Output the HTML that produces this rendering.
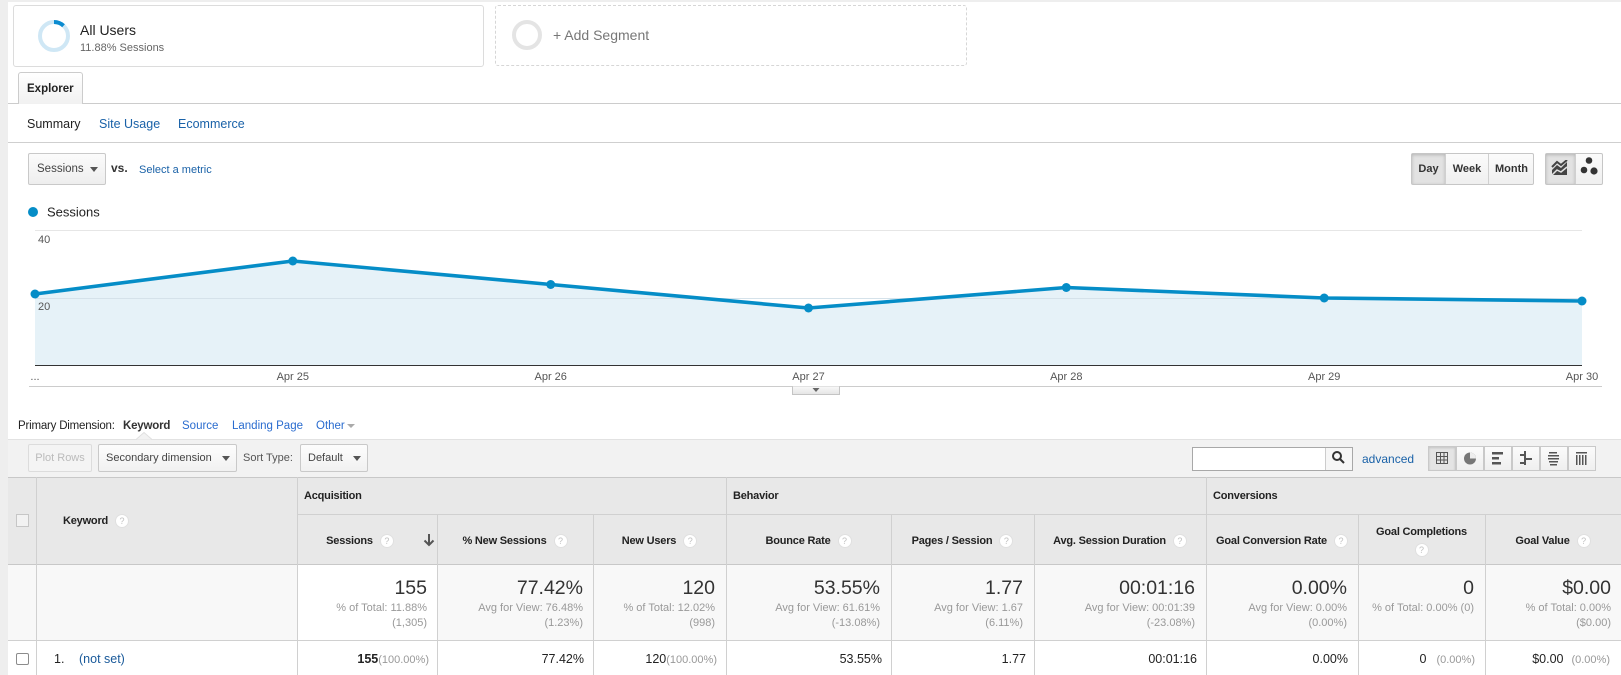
<!DOCTYPE html>
<html><head><meta charset="utf-8"><style>
*{box-sizing:border-box}
body{margin:0;width:1621px;height:675px;overflow:hidden;background:#fff;font-family:"Liberation Sans",Arial,sans-serif;color:#222;position:relative}
.a{position:absolute}
.t{position:absolute;white-space:nowrap;line-height:16px;height:16px}
.lk{color:#1a62a8}
.btn{position:absolute;border:1px solid #c9c9c9;border-radius:2px;background:linear-gradient(#fbfbfb,#eeeeee)}
.car{position:absolute;width:0;height:0;border-left:4px solid transparent;border-right:4px solid transparent;border-top:5px solid #555}
.hl{position:absolute;background:#d0d0d0;height:1px}
.vl{position:absolute;background:#d0d0d0;width:1px}
.hd{position:absolute;display:flex;align-items:center;justify-content:center;font-weight:bold;font-size:11px;letter-spacing:-0.2px;color:#222;white-space:nowrap}
.q{display:inline-block;width:14px;height:14px;border-radius:50%;background:#fff;border:1px solid #e0e0e0;color:#c0c0c0;font-size:9px;line-height:12px;text-align:center;margin-left:7px;font-weight:normal;letter-spacing:0}
.big{position:absolute;white-space:nowrap;font-size:19.5px;line-height:24px;color:#333;text-align:right;top:576px}
.sub{position:absolute;white-space:nowrap;font-size:11px;line-height:15px;color:#999;text-align:right}
.s1{top:601px}.s2{top:616px}
.dr{position:absolute;white-space:nowrap;font-size:12.5px;line-height:16px;color:#222;text-align:right;top:651px}
.pc{font-size:11px;color:#999}
.gh{position:absolute;font-weight:bold;font-size:11px;letter-spacing:-0.2px;line-height:16px;top:488px;white-space:nowrap}
.vb{position:absolute;top:446px;width:28px;height:25px;border:1px solid #c9c9c9;background:linear-gradient(#fbfbfb,#efefef)}
</style></head><body>

<!-- page frame -->
<div class="a" style="left:0;top:0;width:8px;height:675px;background:#eeeeee"></div>
<div class="a" style="left:0;top:0;width:1621px;height:2px;background:#eeeeee"></div>

<!-- segment cards -->
<div class="a" style="left:13px;top:5px;width:471px;height:62px;border:1px solid #dcdcdc;border-radius:3px"></div>
<svg class="a" style="left:38px;top:20px" width="32" height="32">
<circle cx="16" cy="16" r="14" fill="none" stroke="#cfe7f5" stroke-width="4"/>
<circle cx="16" cy="16" r="14" fill="none" stroke="#0a8bd0" stroke-width="4" stroke-dasharray="10.45 88" transform="rotate(-90 16 16)"/>
</svg>
<div class="t" style="left:80px;top:22px;font-size:14px;color:#222">All Users</div>
<div class="t" style="left:80px;top:40px;font-size:11px;color:#666">11.88% Sessions</div>

<div class="a" style="left:495px;top:5px;width:472px;height:61px;border:1px dashed #d6d6d6;border-radius:3px"></div>
<svg class="a" style="left:510px;top:18px" width="34" height="34">
<circle cx="17" cy="17" r="13" fill="none" stroke="#e4e4e4" stroke-width="4"/>
</svg>
<div class="t" style="left:553px;top:26px;font-size:14px;color:#777;line-height:18px;height:18px">+ Add Segment</div>

<!-- explorer tab -->
<div class="hl" style="left:8px;top:103px;width:1613px;background:#cccccc"></div>
<div class="a" style="left:18px;top:72px;width:65px;height:32px;border:1px solid #cccccc;border-bottom:none;border-radius:3px 3px 0 0;background:linear-gradient(#ffffff,#f1f1f1)"></div>
<div class="t" style="left:27px;top:81px;font-size:11.5px;font-weight:bold;color:#222">Explorer</div>

<div class="t" style="left:27px;top:116px;font-size:12.5px;color:#222">Summary</div>
<div class="t lk" style="left:99px;top:116px;font-size:12.5px">Site Usage</div>
<div class="t lk" style="left:178px;top:116px;font-size:12.5px">Ecommerce</div>
<div class="hl" style="left:8px;top:142px;width:1613px;background:#cfcfcf"></div>

<!-- chart controls -->
<div class="btn" style="left:28px;top:153px;width:78px;height:32px"></div>
<div class="t" style="left:37px;top:161px;font-size:11.5px;color:#444">Sessions</div>
<div class="car" style="left:90px;top:167px"></div>
<div class="t" style="left:111px;top:160px;font-size:12px;font-weight:bold;color:#333">vs.</div>
<div class="t lk" style="left:139px;top:162px;font-size:11px">Select a metric</div>

<div class="a" style="left:1411px;top:153px;width:123px;height:32px;border:1px solid #c6c6c6;border-radius:2px;background:linear-gradient(#fbfbfb,#efefef)"></div>
<div class="a" style="left:1412px;top:154px;width:33px;height:30px;background:#e2e2e2;box-shadow:inset 0 1px 3px rgba(0,0,0,.2)"></div>
<div class="vl" style="left:1445px;top:154px;height:30px;background:#d0d0d0"></div>
<div class="vl" style="left:1488px;top:154px;height:30px;background:#d0d0d0"></div>
<div class="t" style="left:1412px;top:161px;width:33px;text-align:center;font-size:11px;font-weight:bold;color:#333">Day</div>
<div class="t" style="left:1446px;top:161px;width:42px;text-align:center;font-size:11px;font-weight:bold;color:#333">Week</div>
<div class="t" style="left:1489px;top:161px;width:45px;text-align:center;font-size:11px;font-weight:bold;color:#333">Month</div>

<div class="a" style="left:1545px;top:153px;width:58px;height:32px;border:1px solid #c6c6c6;border-radius:2px;background:linear-gradient(#fbfbfb,#efefef)"></div>
<div class="a" style="left:1546px;top:154px;width:29px;height:30px;background:#e2e2e2;box-shadow:inset 0 1px 3px rgba(0,0,0,.2)"></div>
<div class="vl" style="left:1575px;top:154px;height:30px;background:#d0d0d0"></div>
<svg class="a" style="left:1551px;top:160px" width="18" height="16">
<path d="M1,15 L1,10 L6,5 L10,8 L16,2 L16,15 Z" fill="#444"/>
<polyline points="1,7 6,2 10,5 16,0" fill="none" stroke="#444" stroke-width="2"/>
<path d="M1,15 L6,10 L10,12 L16,7" fill="none" stroke="#e2e2e2" stroke-width="1.5"/>
</svg>
<svg class="a" style="left:1577px;top:153px" width="26" height="32">
<circle cx="12" cy="7.5" r="3.3" fill="#333"/>
<circle cx="7" cy="17" r="3.3" fill="#333"/>
<circle cx="17" cy="18" r="3.6" fill="#333"/>
</svg>

<!-- chart -->
<svg class="a" style="left:0;top:0" width="1621" height="400" font-family="Liberation Sans, Arial, sans-serif">
<circle cx="33" cy="212" r="5" fill="#058dc7"/>
<text x="47" y="216.5" font-size="13" fill="#222">Sessions</text>
<line x1="35" y1="230.5" x2="1582" y2="230.5" stroke="#e6e6e6"/>
<path d="M35,365 L35,294 L292.8,261 L550.7,284.5 L808.5,308 L1066.3,287.5 L1324.2,298 L1582,301 L1582,365 Z" fill="#e6f2f8"/>
<line x1="35" y1="298.5" x2="1582" y2="298.5" stroke="#d5e2ea"/>
<line x1="35" y1="365.5" x2="1582" y2="365.5" stroke="#333"/>
<polyline points="35,294 292.8,261 550.7,284.5 808.5,308 1066.3,287.5 1324.2,298 1582,301" fill="none" stroke="#058dc7" stroke-width="3.6" stroke-linejoin="round"/>
<g fill="#058dc7">
<circle cx="35" cy="294" r="4.5"/><circle cx="292.8" cy="261" r="4.5"/><circle cx="550.7" cy="284.5" r="4.5"/>
<circle cx="808.5" cy="308" r="4.5"/><circle cx="1066.3" cy="287.5" r="4.5"/><circle cx="1324.2" cy="298" r="4.5"/><circle cx="1582" cy="301" r="4.5"/>
</g>
<text x="38" y="243" font-size="11" fill="#555">40</text>
<text x="38" y="310" font-size="11" fill="#555">20</text>
<g font-size="11" fill="#555" text-anchor="middle">
<text x="35" y="380">...</text>
<text x="292.8" y="380">Apr 25</text>
<text x="550.7" y="380">Apr 26</text>
<text x="808.5" y="380">Apr 27</text>
<text x="1066.3" y="380">Apr 28</text>
<text x="1324.2" y="380">Apr 29</text>
<text x="1582" y="380">Apr 30</text>
</g>
<line x1="29" y1="386.5" x2="1602" y2="386.5" stroke="#cccccc"/>
<defs><linearGradient id="g1" x1="0" y1="0" x2="0" y2="1"><stop offset="0" stop-color="#f8f8f8"/><stop offset="1" stop-color="#e4e4e4"/></linearGradient></defs>
<path d="M792.5,386.5 L792.5,394.5 L839.5,394.5 L839.5,386.5" fill="url(#g1)" stroke="#c4c4c4"/>
<path d="M812.5,388 L819.5,388 L816,392 Z" fill="#666"/>
</svg>

<!-- primary dimension -->
<div class="t" style="left:18px;top:418px;font-size:11.5px;letter-spacing:-0.2px;color:#222">Primary Dimension:</div>
<div class="t" style="left:123px;top:418px;font-size:11.5px;letter-spacing:-0.2px;color:#333;font-weight:bold">Keyword</div>
<div class="t" style="left:182px;top:418px;font-size:11.5px;color:#2a6ccf">Source</div>
<div class="t" style="left:232px;top:418px;font-size:11.5px;color:#2a6ccf">Landing Page</div>
<div class="t" style="left:316px;top:418px;font-size:11.5px;color:#2a6ccf">Other</div>
<div class="car" style="left:347px;top:424px;border-top-color:#aaa;border-top-width:4px"></div>

<!-- toolbar -->
<div class="a" style="left:8px;top:439px;width:1613px;height:38px;background:#f2f2f2;border-top:1px solid #e2e2e2"></div>
<svg class="a" style="left:136px;top:432px" width="18" height="9"><path d="M0,7.5 L8,0.5 L16,7.5" fill="#f2f2f2" stroke="#e0e0e0"/></svg>
<div class="a" style="left:28px;top:444px;width:64px;height:28px;border:1px solid #dcdcdc;border-radius:2px;background:#f4f4f4"></div>
<div class="t" style="left:28px;top:450px;width:64px;text-align:center;font-size:11px;color:#bbb">Plot Rows</div>
<div class="btn" style="left:98px;top:444px;width:139px;height:28px;background:linear-gradient(#fdfdfd,#f1f1f1)"></div>
<div class="t" style="left:106px;top:450px;font-size:11px;color:#444">Secondary dimension</div>
<div class="car" style="left:222px;top:456px"></div>
<div class="t" style="left:243px;top:450px;font-size:11px;color:#555">Sort Type:</div>
<div class="btn" style="left:300px;top:444px;width:68px;height:28px;background:linear-gradient(#fdfdfd,#f1f1f1)"></div>
<div class="t" style="left:308px;top:450px;font-size:11px;color:#444">Default</div>
<div class="car" style="left:353px;top:456px"></div>

<div class="a" style="left:1192px;top:447px;width:161px;height:24px;border:1px solid #a8a8a8;background:#fff"></div>
<div class="a" style="left:1325px;top:448px;width:27px;height:22px;border-left:1px solid #ccc;background:#f6f6f6"></div>
<div class="t lk" style="left:1362px;top:451px;font-size:12px">advanced</div>

<div class="vb" style="left:1428px;background:#e4e4e4;box-shadow:inset 0 1px 2px rgba(0,0,0,.15)"></div>
<div class="vb" style="left:1456px"></div>
<div class="vb" style="left:1484px"></div>
<div class="vb" style="left:1512px"></div>
<div class="vb" style="left:1540px"></div>
<div class="vb" style="left:1568px"></div>

<!-- table header backgrounds -->
<div class="a" style="left:8px;top:477px;width:1613px;height:87px;background:#e8e8e8"></div>
<div class="a" style="left:8px;top:564px;width:1613px;height:76px;background:#f8f8f8"></div>
<div class="a" style="left:297px;top:564px;width:140px;height:76px;background:#ffffff"></div>

<!-- lines -->
<div class="hl" style="left:8px;top:477px;width:1613px;background:#c8c8c8"></div>
<div class="hl" style="left:297px;top:514px;width:1324px"></div>
<div class="hl" style="left:8px;top:564px;width:1613px;background:#c8c8c8"></div>
<div class="hl" style="left:8px;top:640px;width:1613px"></div>
<div class="vl" style="left:36px;top:477px;height:198px"></div>
<div class="vl" style="left:297px;top:477px;height:198px"></div>
<div class="vl" style="left:437px;top:514px;height:161px"></div>
<div class="vl" style="left:593px;top:514px;height:161px"></div>
<div class="vl" style="left:726px;top:477px;height:198px"></div>
<div class="vl" style="left:891px;top:514px;height:161px"></div>
<div class="vl" style="left:1034px;top:514px;height:161px"></div>
<div class="vl" style="left:1206px;top:477px;height:198px"></div>
<div class="vl" style="left:1358px;top:514px;height:161px"></div>
<div class="vl" style="left:1485px;top:514px;height:161px"></div>

<!-- checkboxes -->
<div class="a" style="left:16px;top:514px;width:13px;height:13px;border:1px solid #c6c6c6;background:#f2f2f2"></div>
<div class="a" style="left:16px;top:653px;width:13px;height:12px;border:1px solid #8c8c8c;border-radius:2px;background:#fff"></div>

<!-- group headers -->
<div class="gh" style="left:304px">Acquisition</div>
<div class="gh" style="left:733px">Behavior</div>
<div class="gh" style="left:1213px">Conversions</div>

<!-- column headers -->
<div class="hd" style="left:63px;top:513px;height:16px;justify-content:flex-start">Keyword<span class="q">?</span></div>
<div class="hd" style="left:297px;top:516px;width:140px;height:50px;padding-right:14px">Sessions<span class="q">?</span></div>
<div class="hd" style="left:437px;top:516px;width:156px;height:50px">% New Sessions<span class="q">?</span></div>
<div class="hd" style="left:593px;top:516px;width:133px;height:50px">New Users<span class="q">?</span></div>
<div class="hd" style="left:726px;top:516px;width:165px;height:50px">Bounce Rate<span class="q">?</span></div>
<div class="hd" style="left:891px;top:516px;width:143px;height:50px">Pages / Session<span class="q">?</span></div>
<div class="hd" style="left:1034px;top:516px;width:172px;height:50px">Avg. Session Duration<span class="q">?</span></div>
<div class="hd" style="left:1206px;top:516px;width:152px;height:50px">Goal Conversion Rate<span class="q">?</span></div>
<div class="hd" style="left:1358px;top:516px;width:127px;height:50px;flex-direction:column"><div style="line-height:14px">Goal Completions</div><span class="q" style="margin:4px 0 0 0">?</span></div>
<div class="hd" style="left:1485px;top:516px;width:136px;height:50px">Goal Value<span class="q">?</span></div>

<!-- overlay icons -->
<svg class="a" style="left:0;top:0" width="1621" height="675">
<g stroke="#555" stroke-width="2" fill="none">
<line x1="429" y1="534" x2="429" y2="545"/>
<polyline points="424.5,540.5 429,545 433.5,540.5"/>
</g>
<g stroke="#333" stroke-width="2" fill="none">
<circle cx="1337" cy="456" r="4"/>
<line x1="1340" y1="459" x2="1344" y2="463"/>
</g>
<g stroke="#555" stroke-width="1" fill="none">
<rect x="1436.5" y="452.5" width="11" height="11"/>
<line x1="1440.5" y1="452.5" x2="1440.5" y2="463.5"/><line x1="1444" y1="452.5" x2="1444" y2="463.5"/>
<line x1="1436.5" y1="456.5" x2="1447.5" y2="456.5"/><line x1="1436.5" y1="460" x2="1447.5" y2="460"/>
</g>
<circle cx="1470" cy="458.5" r="6" fill="#777"/>
<path d="M1470,458.5 L1470,452.5 A6,6 0 0 1 1476,458.5 Z" fill="#eee"/>
<g fill="#555">
<rect x="1492" y="452" width="11" height="2.5"/><rect x="1492" y="457" width="7" height="2.5"/><rect x="1492" y="462" width="9" height="2.5"/>
<rect x="1524" y="451" width="2" height="14"/><rect x="1520" y="454" width="6" height="2"/><rect x="1526" y="458" width="6" height="2"/><rect x="1520" y="462" width="6" height="2"/>
<rect x="1549" y="452" width="8" height="1.5"/><rect x="1548" y="455" width="11" height="1.5"/><rect x="1548" y="458" width="11" height="1.5"/><rect x="1549" y="461" width="9" height="1.5"/><rect x="1550" y="464" width="7" height="1.5"/>
<rect x="1576" y="452" width="11" height="1.5"/>
<rect x="1576" y="455" width="1.5" height="10"/><rect x="1579" y="455" width="1.5" height="10"/><rect x="1582" y="455" width="1.5" height="10"/><rect x="1585" y="455" width="1.5" height="10"/>
</g>
</svg>

<!-- totals row -->
<div class="big" style="right:1194px">155</div>
<div class="sub s1" style="right:1194px">% of Total: 11.88%</div>
<div class="sub s2" style="right:1194px">(1,305)</div>

<div class="big" style="right:1038px">77.42%</div>
<div class="sub s1" style="right:1038px">Avg for View: 76.48%</div>
<div class="sub s2" style="right:1038px">(1.23%)</div>

<div class="big" style="right:906px">120</div>
<div class="sub s1" style="right:906px">% of Total: 12.02%</div>
<div class="sub s2" style="right:906px">(998)</div>

<div class="big" style="right:741px">53.55%</div>
<div class="sub s1" style="right:741px">Avg for View: 61.61%</div>
<div class="sub s2" style="right:741px">(-13.08%)</div>

<div class="big" style="right:598px">1.77</div>
<div class="sub s1" style="right:598px">Avg for View: 1.67</div>
<div class="sub s2" style="right:598px">(6.11%)</div>

<div class="big" style="right:426px">00:01:16</div>
<div class="sub s1" style="right:426px">Avg for View: 00:01:39</div>
<div class="sub s2" style="right:426px">(-23.08%)</div>

<div class="big" style="right:274px">0.00%</div>
<div class="sub s1" style="right:274px">Avg for View: 0.00%</div>
<div class="sub s2" style="right:274px">(0.00%)</div>

<div class="big" style="right:147px">0</div>
<div class="sub s1" style="right:147px">% of Total: 0.00% (0)</div>

<div class="big" style="right:10px">$0.00</div>
<div class="sub s1" style="right:10px">% of Total: 0.00%</div>
<div class="sub s2" style="right:10px">($0.00)</div>

<!-- data row -->
<div class="t" style="left:54px;top:651px;font-size:12.5px;color:#222">1.</div>
<div class="t" style="left:79px;top:651px;font-size:12.5px;color:#1a5a9a">(not set)</div>
<div class="dr" style="right:1192px"><b>155</b><span class="pc">(100.00%)</span></div>
<div class="dr" style="right:1037px">77.42%</div>
<div class="dr" style="right:904px">120<span class="pc">(100.00%)</span></div>
<div class="dr" style="right:739px">53.55%</div>
<div class="dr" style="right:595px">1.77</div>
<div class="dr" style="right:424px">00:01:16</div>
<div class="dr" style="right:273px">0.00%</div>
<div class="dr" style="right:146px">0<span class="pc" style="margin-left:10px">(0.00%)</span></div>
<div class="dr" style="right:11px">$0.00<span class="pc" style="margin-left:8px">(0.00%)</span></div>

</body></html>
